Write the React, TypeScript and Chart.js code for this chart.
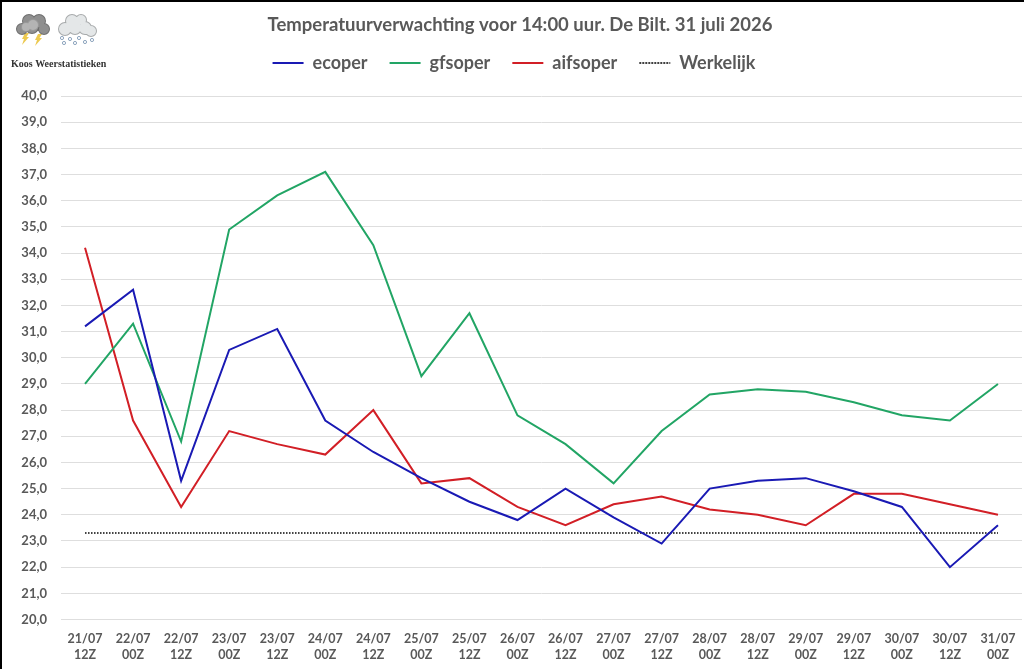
import React, { useRef, useEffect } from 'react';
import Chart from 'chart.js/auto';

const labels = [
  ['21/07', '12Z'], ['22/07', '00Z'], ['22/07', '12Z'], ['23/07', '00Z'], ['23/07', '12Z'],
  ['24/07', '00Z'], ['24/07', '12Z'], ['25/07', '00Z'], ['25/07', '12Z'], ['26/07', '00Z'],
  ['26/07', '12Z'], ['27/07', '00Z'], ['27/07', '12Z'], ['28/07', '00Z'], ['28/07', '12Z'],
  ['29/07', '00Z'], ['29/07', '12Z'], ['30/07', '00Z'], ['30/07', '12Z'], ['31/07', '00Z'],
];

const ecoper = [31.2, 32.6, 25.3, 30.3, 31.1, 27.6, 26.4, 25.4, 24.5, 23.8, 25.0, 23.9, 22.9, 25.0, 25.3, 25.4, 24.9, 24.3, 22.0, 23.6];
const gfsoper = [29.0, 31.3, 26.8, 34.9, 36.2, 37.1, 34.3, 29.3, 31.7, 27.8, 26.7, 25.2, 27.2, 28.6, 28.8, 28.7, 28.3, 27.8, 27.6, 29.0];
const aifsoper = [34.2, 27.6, 24.3, 27.2, 26.7, 26.3, 28.0, 25.2, 25.4, 24.3, 23.6, 24.4, 24.7, 24.2, 24.0, 23.6, 24.8, 24.8, 24.4, 24.0];
const werkelijk = [23.3, 23.3, 23.3, 23.3, 23.3, 23.3, 23.3, 23.3, 23.3, 23.3, 23.3, 23.3, 23.3, 23.3, 23.3, 23.3, 23.3, 23.3, 23.3, 23.3];

const titleText = 'Temperatuurverwachting voor 14:00 uur. De Bilt. 31 juli 2026';
const brandText = 'Koos Weerstatistieken';
const textColor = '#595959';

// one cloud made of a few overlapping circles
const cloud = (ctx, parts, fill, edge) => {
  ctx.beginPath();
  parts.forEach(([x, y, r]) => {
    ctx.moveTo(x + r, y);
    ctx.arc(x, y, r, 0, Math.PI * 2);
  });
  ctx.fillStyle = edge;
  ctx.fill();
  ctx.beginPath();
  parts.forEach(([x, y, r]) => {
    ctx.moveTo(x + r - 1, y);
    ctx.arc(x, y, r - 1, 0, Math.PI * 2);
  });
  ctx.fillStyle = fill;
  ctx.fill();
};

const bolt = (ctx, x, y) => {
  ctx.beginPath();
  ctx.moveTo(x + 3, y);
  ctx.lineTo(x + 7, y);
  ctx.lineTo(x + 4.5, y + 4);
  ctx.lineTo(x + 7, y + 4);
  ctx.lineTo(x, y + 12);
  ctx.lineTo(x + 2, y + 6);
  ctx.lineTo(x, y + 6);
  ctx.closePath();
  ctx.fillStyle = '#ecc94f';
  ctx.fill();
};

const headerPlugin = {
  id: 'header',
  // extra room between the legend and the plot
  beforeInit(chart) {
    const fit = chart.legend.fit;
    chart.legend.fit = function () {
      fit.call(this);
      this.height += 14;
    };
  },
  beforeDraw(chart) {
    const { ctx } = chart;
    ctx.save();
    ctx.fillStyle = '#ffffff';
    ctx.fillRect(0, 0, 1024, 669);
    ctx.fillStyle = '#000000';
    ctx.fillRect(0, 0, 1024, 2);
    ctx.fillRect(0, 0, 2, 669);

    // storm icon
    bolt(ctx, 22, 33);
    bolt(ctx, 35, 34);
    cloud(ctx, [[29, 21, 7], [39, 21, 7], [22, 29, 6], [32, 27, 7], [44, 29, 6]], '#8f8f8f', '#6e6e6e');
    cloud(ctx, [[26, 27, 5], [33, 25, 6]], '#b4b4b4', '#9a9a9a');

    // snow/hail icon
    cloud(ctx, [[72, 21, 7], [81, 20, 6], [65, 29, 7], [75, 28, 7], [91, 31, 6], [85, 28, 7]], '#e4e7e8', '#a7aaab');
    ctx.strokeStyle = '#8fa6bf';
    ctx.lineWidth = 1;
    [[62, 38], [70, 39], [79, 38], [64, 43], [75, 43], [85, 42], [92, 40]].forEach(([x, y]) => {
      ctx.beginPath();
      ctx.arc(x, y, 1.6, 0, Math.PI * 2);
      ctx.stroke();
    });

    ctx.fillStyle = '#333333';
    ctx.font = '600 10px "Liberation Serif"';
    ctx.textAlign = 'left';
    ctx.textBaseline = 'middle';
    ctx.fillText(brandText, 11, 64);

    ctx.fillStyle = textColor;
    ctx.font = 'bold 18.5px Lato';
    ctx.textAlign = 'center';
    ctx.fillText(titleText, 520, 25);
    ctx.restore();
  },
};

const App = () => {
  const chartContainer = useRef(null);

  useEffect(() => {
    document.body.style.margin = '0';
    const chart = new Chart(chartContainer.current, {
      type: 'line',
      data: {
        labels: labels,
        datasets: [
          { label: 'ecoper', data: ecoper, borderColor: '#1a1ab4', backgroundColor: '#1a1ab4', borderWidth: 2 },
          { label: 'gfsoper', data: gfsoper, borderColor: '#22a565', backgroundColor: '#22a565', borderWidth: 2 },
          { label: 'aifsoper', data: aifsoper, borderColor: '#d21f26', backgroundColor: '#d21f26', borderWidth: 2 },
          { label: 'Werkelijk', data: werkelijk, borderColor: '#000000', backgroundColor: '#000000', borderWidth: 1.5, borderDash: [1.5, 1.5] },
        ],
      },
      options: {
        responsive: false,
        animation: false,
        elements: { point: { radius: 0 }, line: { tension: 0 } },
        layout: { padding: { left: 6, right: 2, top: 32 } },
        plugins: {
          title: { display: false },
          tooltip: { enabled: false },
          legend: {
            position: 'top',
            labels: {
              boxWidth: 31,
              boxHeight: 0,
              padding: 22,
              color: textColor,
              font: { family: 'Lato', size: 18, weight: 'bold' },
            },
          },
        },
        scales: {
          x: {
            offset: true,
            grid: { display: false },
            border: { display: false },
            afterFit: (scale) => { scale.height = 49.5; },
            ticks: {
              autoSkip: false,
              maxRotation: 0,
              padding: 3,
              color: textColor,
              font: { family: 'Lato', size: 12.5, weight: 'bold', lineHeight: 1.3 },
            },
          },
          y: {
            min: 20,
            max: 40,
            afterFit: (scale) => { scale.width = 55; },
            grid: { color: '#dedede', lineWidth: 1, drawTicks: false },
            border: { display: false },
            ticks: {
              stepSize: 1,
              padding: 14,
              color: textColor,
              font: { family: 'Lato', size: 13, weight: 'bold' },
              callback: (v) => Number(v).toFixed(1).replace('.', ','),
            },
          },
        },
      },
      plugins: [headerPlugin],
    });

    return () => chart.destroy();
  }, []);

  return <canvas ref={chartContainer} width={1024} height={669} style={{ display: 'block' }} />;
};

export default App;
